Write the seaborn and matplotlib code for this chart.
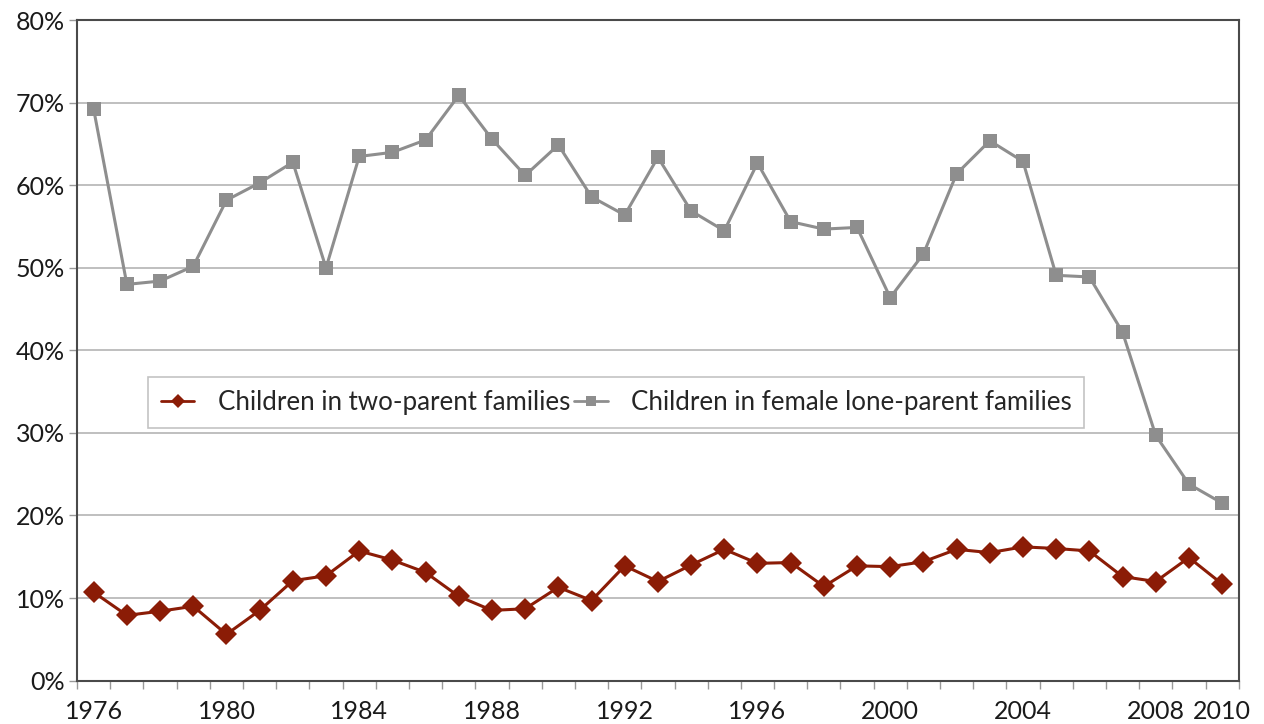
import numpy as np
import pandas as pd
import matplotlib
matplotlib.use("Agg")
import matplotlib.pyplot as plt
import seaborn as sns
from matplotlib.ticker import FuncFormatter, FixedLocator

years = list(range(1976, 2011))

two_parent = [10.7, 7.9, 8.4, 9.0, 5.6, 8.5, 12.1, 12.7, 15.7, 14.6,
              13.1, 10.2, 8.5, 8.7, 11.3, 9.7, 13.9, 12.0, 14.0, 15.9,
              14.2, 14.3, 11.4, 13.9, 13.8, 14.4, 15.9, 15.5, 16.2, 16.0,
              15.7, 12.6, 12.0, 14.9, 11.7]

female_lone = [69.2, 48.0, 48.4, 50.2, 58.2, 60.3, 62.8, 50.0, 63.5, 64.0,
               65.5, 70.9, 65.6, 61.2, 64.9, 58.6, 56.4, 63.4, 56.9, 54.5,
               62.7, 55.6, 54.7, 54.9, 46.4, 51.7, 61.4, 65.4, 62.9, 49.1,
               48.9, 42.2, 29.7, 23.8, 21.5]

label_years = [1976, 1980, 1984, 1988, 1992, 1996, 2000, 2004, 2008, 2010]

red = "#8B1C06"
grey = "#8E8E8E"

df = pd.DataFrame({"Year": years,
                   "two": two_parent,
                   "lone": female_lone})

sns.set_theme(style="white")
plt.rcParams["font.family"] = ["Lato", "DejaVu Sans"]

fig, ax = plt.subplots(figsize=(12.64, 7.24), dpi=100)
fig.subplots_adjust(left=0.061, right=0.98, top=0.972, bottom=0.06)

sns.lineplot(data=df, x="Year", y="two", ax=ax, color=red, marker="D",
             markersize=11, markeredgewidth=0, linewidth=2.2,
             label="Children in two-parent families")
sns.lineplot(data=df, x="Year", y="lone", ax=ax, color=grey, marker="s",
             markersize=10.5, markeredgewidth=0, linewidth=2.2,
             label="Children in female lone-parent families")

ax.set_xlim(1975.5, 2010.5)
ax.set_ylim(0, 80)
ax.set_yticks(np.arange(0, 81, 10))
ax.yaxis.set_major_formatter(FuncFormatter(lambda v, p: f"{v:.0f}%"))
ax.yaxis.grid(True, color="#b4b4b4", linewidth=1.2)
ax.xaxis.grid(False)

ax.set_xticks(label_years)
ax.set_xticklabels([str(y) for y in label_years])
ax.xaxis.set_minor_locator(FixedLocator(np.arange(1975.5, 2011, 1)))
ax.tick_params(axis="x", which="major", length=0, labelsize=18, pad=14, colors="#1a1a1a")
ax.tick_params(axis="x", which="minor", length=6, width=1, color="#999999", direction="out", bottom=True)
ax.tick_params(axis="y", which="major", length=6, width=1, color="#999999", left=True,
               labelsize=18, pad=3, colors="#1a1a1a")

ax.set_xlabel("")
ax.set_ylabel("")
for s in ax.spines.values():
    s.set_color("#4a4a4a")
    s.set_linewidth(1.5)

leg = ax.legend(loc="upper left", bbox_to_anchor=(0.061, 0.46), ncol=2,
                fontsize=18.6, frameon=True, fancybox=False, handlelength=1.3,
                columnspacing=0.15, handletextpad=0.9, borderpad=0.5,
                borderaxespad=0)
leg.get_frame().set_edgecolor("#b4b4b4")
leg.get_frame().set_linewidth(1.2)
for h in leg.get_lines():
    h.set_markersize(7)
    h.set_linewidth(2)

fig.savefig("out.png", dpi=100)
